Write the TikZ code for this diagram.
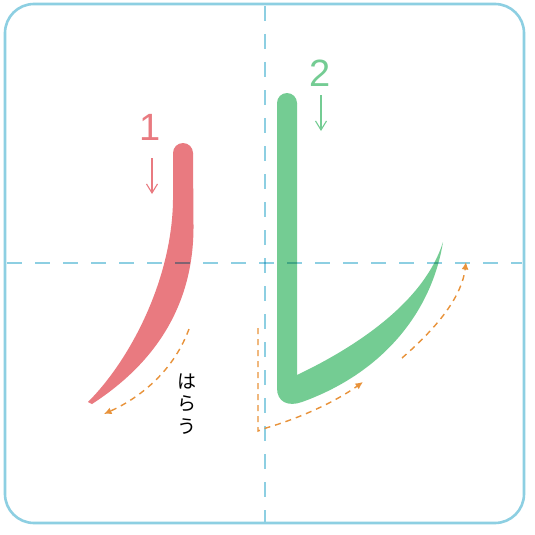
\documentclass[tikz,border=0pt]{standalone}
\usepackage{fontspec}
\setmainfont{Liberation Sans}
\newfontfamily\jpfont{Noto Sans CJK JP}
\usetikzlibrary{arrows.meta}
\definecolor{gridblue}{HTML}{8DCFE2}
\definecolor{strokered}{HTML}{E97A80}
\definecolor{strokegreen}{HTML}{74CC93}
\definecolor{guideorange}{HTML}{E8923A}
\begin{document}
\begin{tikzpicture}[x=1pt,y=-1pt,
  gridline/.style={gridblue, line width=1.5pt, dash pattern=on 15pt off 13pt},
  guidearrow/.style={guideorange, line width=1.4pt, dash pattern=on 6pt off 5pt,
    -{Latex[length=7.5pt,width=7pt]}},
  orderarrow/.style={line width=1.1pt, -{Straight Barb[length=9pt,width=11pt,line width=1.1pt]}},
  numlabel/.style={inner sep=0pt, anchor=base, font=\fontsize{38}{38}\selectfont},
  kanalabel/.style={inner sep=0pt, align=center, font=\jpfont\fontsize{19}{22.5}\selectfont}]
\useasboundingbox (0,0) rectangle (535,535);
\fill[white] (0,0) rectangle (535,535);

% stroke 1 (red)
\fill[strokered] (183,153) circle (10);
\fill[strokered] (173,153) -- (173,200) .. controls (172,280) and (130,360) .. (88,402)
  -- (92,404) .. controls (160,360) and (194,300) .. (193.5,225) -- (193,153) -- cycle;

% stroke 2 (green)
\fill[strokegreen] (287,103) circle (10);
\fill[strokegreen] (297,103) -- (297,375) .. controls (360,345) and (425,300) .. (443,242)
  .. controls (432,310) and (385,372) .. (302,402)
  .. controls (288,407) and (277,402) .. (277,388) -- (277,103) -- cycle;

% grid
\begin{scope}[blend mode=multiply]
\draw[gridline] (265,6) -- (265,522);
\draw[gridline] (7,263) -- (522,263);
\end{scope}
\draw[gridblue, line width=2.6pt, rounded corners=29pt] (5,4) rectangle (524,523);

% numbers and order arrows
\node[numlabel, text=strokered] (n1) at (150,140) {1};
\node[numlabel, text=strokegreen] (n2) at (320.5,86) {2};
\coordinate (a1s) at (152,158); \coordinate (a1e) at (152,194);
\coordinate (a2s) at (321,95);  \coordinate (a2e) at (321,131);
\draw[orderarrow, strokered] (a1s) -- (a1e);
\draw[orderarrow, strokegreen] (a2s) -- (a2e);

% guide arrows
\coordinate (g1s) at (189,329); \coordinate (g1e) at (104,414);
\draw[guidearrow] (g1s) .. controls (172,375) and (135,400) .. (g1e);
\coordinate (g2s) at (258,328); \coordinate (g2c) at (258,431); \coordinate (g2e) at (363,382);
\draw[guidearrow] (g2s) -- (g2c) -- (266,428) .. controls (300,418) and (335,402) .. (g2e);
\coordinate (g3s) at (402,358); \coordinate (g3e) at (466,262);
\draw[guidearrow] (g3s) .. controls (440,325) and (462,295) .. (g3e);

% label
\node[kanalabel] (harau) at (187,404) {は\\ら\\う};
\end{tikzpicture}
\end{document}
